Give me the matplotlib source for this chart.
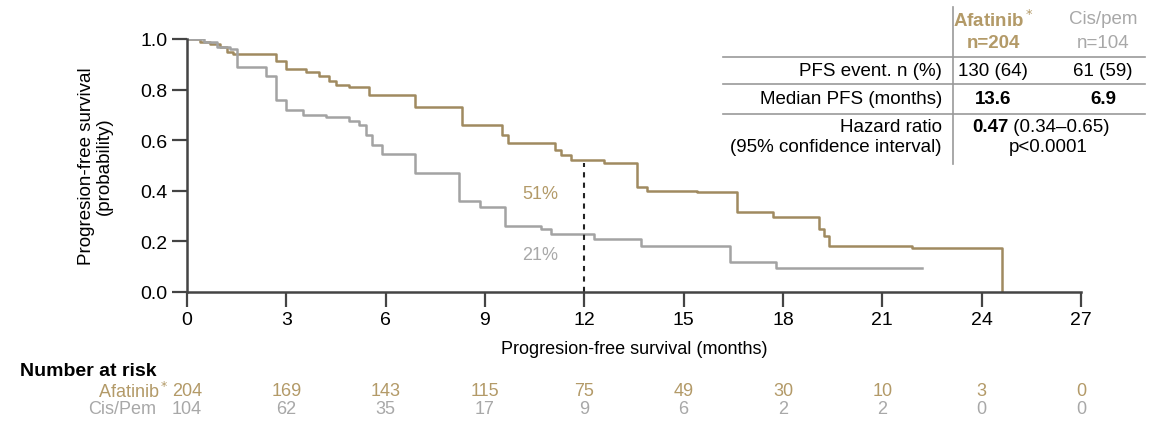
import matplotlib
matplotlib.use("Agg")
import matplotlib.pyplot as plt
from matplotlib.lines import Line2D
import matplotlib.transforms as mtransforms

plt.rcParams['font.family'] = ['Liberation Sans', 'DejaVu Sans']

# Kaplan-Meier steps
afa_t = [0, 0.4, 0.7, 1.0, 1.2, 1.4, 2.7, 3.0, 3.6, 4.0, 4.3, 4.5, 4.9, 5.5, 6.9, 8.3,
         9.5, 9.7, 11.1, 11.3, 11.6, 12.6, 13.6, 13.9, 15.4, 16.6, 17.7, 19.1, 19.25,
         19.4, 21.9, 24.6]
afa_s = [1.0, 0.99, 0.98, 0.97, 0.95, 0.94, 0.915, 0.88, 0.87, 0.855, 0.835, 0.82, 0.81,
         0.78, 0.73, 0.66, 0.62, 0.59, 0.56, 0.54, 0.52, 0.51, 0.415, 0.40, 0.395, 0.316,
         0.296, 0.25, 0.22, 0.18, 0.174, 0.0]

cis_t = [0, 0.5, 0.9, 1.3, 1.5, 2.4, 2.7, 3.0, 3.5, 4.2, 4.9, 5.2, 5.4, 5.6, 5.9, 6.9,
         8.2, 8.85, 9.6, 10.7, 11.0, 12.3, 13.7, 16.4, 17.8, 22.2]
cis_s = [1.0, 0.99, 0.97, 0.96, 0.89, 0.855, 0.76, 0.72, 0.70, 0.69, 0.675, 0.66, 0.62,
         0.58, 0.545, 0.47, 0.36, 0.335, 0.26, 0.25, 0.23, 0.21, 0.18, 0.12, 0.095, 0.095]

risk_months = [0, 3, 6, 9, 12, 15, 18, 21, 24, 27]
afa_risk = [204, 169, 143, 115, 75, 49, 30, 10, 3, 0]
cis_risk = [104, 62, 35, 17, 9, 6, 2, 2, 0, 0]

landmark_month = 12
afa_landmark = 0.51
cis_landmark = 0.21

table_rows = ["PFS event. n (%)", "Median PFS (months)"]
afa_col = ["130 (64)", "13.6"]
cis_col = ["61 (59)", "6.9"]
hr_text = "0.47"
hr_ci = " (0.34\u20130.65)"
p_text = "p<0.0001"

AFA_LINE = "#a08a60"
AFA_TEXT = "#b39a68"
CIS_LINE = "#a3a3a3"
CIS_TEXT = "#a8a8a8"
AXIS = "#444444"

W, H = 1149, 431
fig = plt.figure(figsize=(W / 100, H / 100), dpi=100)
ax = fig.add_axes([187 / W, 1 - 293 / H, (1081 - 187) / W, (293 - 40) / H])


def px(x, y):
    # figure coords from pixel position (top-left origin)
    return x / W, 1 - y / H


ax.step(afa_t, afa_s, where='post', color=AFA_LINE, lw=1.8)
ax.step(cis_t, cis_s, where='post', color=CIS_LINE, lw=1.8)
ax.plot([landmark_month, landmark_month], [0, afa_landmark], color="#222222",
        lw=1.5, ls=(0, (2.5, 2.5)))
ax.text(landmark_month - 0.8, afa_landmark - 0.12, f"{round(afa_landmark * 100)}%",
        color=AFA_TEXT, fontsize=13, ha='right', va='center')
ax.text(landmark_month - 0.8, cis_landmark - 0.06, f"{round(cis_landmark * 100)}%",
        color=CIS_TEXT, fontsize=13, ha='right', va='center')

ax.set_xlim(0, 27)
ax.set_ylim(0, 1)
ax.set_xticks(risk_months)
ax.set_yticks([0, 0.2, 0.4, 0.6, 0.8, 1.0])
ax.set_yticklabels(["0.0", "0.2", "0.4", "0.6", "0.8", "1.0"])
ax.spines['top'].set_visible(False)
ax.spines['right'].set_visible(False)
for s in ['left', 'bottom']:
    ax.spines[s].set_color(AXIS)
    ax.spines[s].set_linewidth(1.8)
ax.tick_params(axis='both', length=11, width=1.6, color=AXIS, labelsize=14, pad=3)
ax.set_xlabel("Progresion-free survival (months)", fontsize=13, labelpad=8)
ax.set_ylabel("Progresion-free survival\n(probability)", fontsize=13.5,
              linespacing=1.05, labelpad=20)
ax.patch.set_alpha(0)

# summary table
fig.text(*px(993, 20), "Afatinib$^*$", color=AFA_TEXT, fontsize=13.5,
         fontweight='bold', ha='center', va='center')
fig.text(*px(993, 43), "n=204", color=AFA_TEXT, fontsize=13.5,
         fontweight='bold', ha='center', va='center')
fig.text(*px(1103, 20), "Cis/pem", color=CIS_TEXT, fontsize=13.5,
         ha='center', va='center')
fig.text(*px(1103, 43), "n=104", color=CIS_TEXT, fontsize=13.5,
         ha='center', va='center')

row_y = [72, 100]
for label, a, c, y in zip(table_rows, afa_col, cis_col, row_y):
    w = 'bold' if "Median" in label else 'normal'
    fig.text(*px(942, y), label, fontsize=13.5, ha='right', va='center')
    fig.text(*px(993, y), a, fontsize=13.5, ha='center', va='center', fontweight=w)
    fig.text(*px(1103, y), c, fontsize=13.5, ha='center', va='center', fontweight=w)

fig.text(*px(942, 128), "Hazard ratio", fontsize=13.5, ha='right', va='center')
fig.text(*px(942, 147), "(95% confidence interval)", fontsize=13.5, ha='right', va='center')
t1 = fig.text(*px(972, 128), hr_text, fontsize=13.5, ha='left', va='center',
              fontweight='bold')
fig.canvas.draw()
bb = t1.get_window_extent()
fig.text(bb.x1 / W, 1 - 128 / H, hr_ci, fontsize=13.5, ha='left', va='center')
fig.text(*px(1048, 147), p_text, fontsize=13.5, ha='center', va='center')

for y, x0 in [(58, 723), (85, 723), (115, 723)]:
    fig.add_artist(Line2D([x0 / W, 1145 / W], [1 - y / H, 1 - y / H],
                          color="#999999", lw=1.2))
fig.add_artist(Line2D([953 / W, 953 / W], [1 - 8 / H, 1 - 165 / H],
                      color="#999999", lw=1.2))

# number at risk
fig.text(*px(20, 372), "Number at risk", fontsize=14, fontweight='bold',
         ha='left', va='center')
fig.text(*px(169, 392), "Afatinib$^*$", fontsize=13, color=AFA_TEXT,
         ha='right', va='center')
fig.text(*px(156, 410), "Cis/Pem", fontsize=13, color=CIS_TEXT,
         ha='right', va='center')
trans = mtransforms.blended_transform_factory(ax.transData, fig.transFigure)
for m, a, c in zip(risk_months, afa_risk, cis_risk):
    fig.text(m, 1 - 392 / H, str(a), transform=trans, fontsize=13,
             color=AFA_TEXT, ha='center', va='center')
    fig.text(m, 1 - 410 / H, str(c), transform=trans, fontsize=13,
             color=CIS_TEXT, ha='center', va='center')

fig.savefig("out.png", dpi=100)
